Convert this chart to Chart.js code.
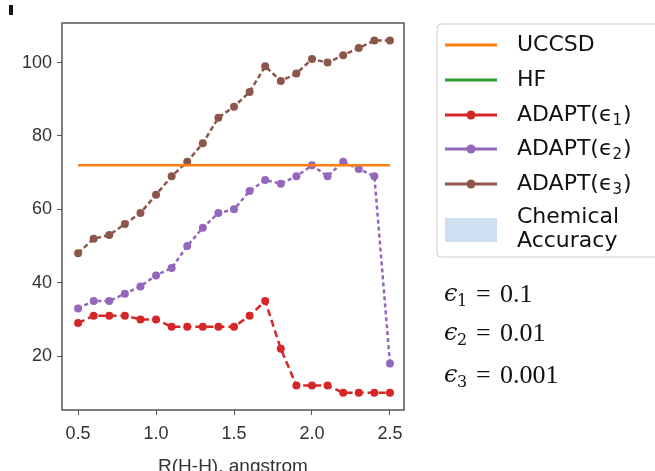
<!DOCTYPE html>
<html>
<head>
<meta charset="UTF-8" />
<script src="https://cdn.jsdelivr.net/npm/chart.js"></script>
<style>
  body { margin: 0; background: #fff; }
  #wrap { position: relative; width: 655px; height: 471px; }
</style>
</head>
<body>
<div id="wrap"><canvas id="c" width="655" height="471"></canvas></div>
<script>
// R(H-H) in angstrom
const rValues = [0.5, 0.6, 0.7, 0.8, 0.9, 1.0, 1.1, 1.2, 1.3, 1.4, 1.5, 1.6, 1.7, 1.8, 1.9, 2.0, 2.1, 2.2, 2.3, 2.4, 2.5];
const adapt1 = [29, 31, 31, 31, 30, 30, 28, 28, 28, 28, 28, 31, 35, 22, 12, 12, 12, 10, 10, 10, 10];
const adapt2 = [33, 35, 35, 37, 39, 42, 44, 50, 55, 59, 60, 65, 68, 67, 69, 72, 69, 73, 71, 69, 18];
const adapt3 = [48, 52, 53, 56, 59, 64, 69, 73, 78, 85, 88, 92, 99, 95, 97, 101, 100, 102, 104, 106, 106];
const uccsdValue = 72;
const xTicks = [0.5, 1.0, 1.5, 2.0, 2.5];
const yTicks = [20, 40, 60, 80, 100];

const legendItems = [
  { label: 'UCCSD', color: '#ff7f0e', marker: false },
  { label: 'HF', color: '#2ca02c', marker: false },
  { label: 'ADAPT(ϵ', sub: '1', color: '#d62728', marker: true },
  { label: 'ADAPT(ϵ', sub: '2', color: '#9467bd', marker: true },
  { label: 'ADAPT(ϵ', sub: '3', color: '#8c564b', marker: true },
  { label: 'Chemical', label2: 'Accuracy', color: '#cddff0', box: true }
];
const epsLines = [['1', '0.1'], ['2', '0.01'], ['3', '0.001']];

const pts = arr => arr.map((v, i) => ({ x: rValues[i], y: v }));

// frame + legend + notes
const extras = {
  id: 'extras',
  afterDraw(chart) {
    const ctx = chart.ctx;
    const a = chart.chartArea;
    ctx.save();
    ctx.strokeStyle = '#555';
    ctx.lineWidth = 1.5;
    ctx.strokeRect(a.left, a.top, a.right - a.left, a.bottom - a.top);

    // panel letter fragment
    ctx.fillStyle = '#111';
    ctx.fillRect(9, 5, 4, 10);

    // legend box
    ctx.strokeStyle = '#ccc';
    ctx.lineWidth = 1;
    ctx.beginPath();
    ctx.moveTo(700, 24);
    ctx.lineTo(441, 24);
    ctx.arcTo(437, 24, 437, 28, 4);
    ctx.lineTo(437, 253);
    ctx.arcTo(437, 257, 441, 257, 4);
    ctx.lineTo(700, 257);
    ctx.stroke();

    ctx.font = '22px "DejaVu Sans"';
    ctx.textBaseline = 'middle';
    const rowY = [45, 80, 115, 149, 184];
    legendItems.forEach((it, i) => {
      if (it.box) {
        ctx.fillStyle = it.color;
        ctx.fillRect(445, 218, 52, 24);
        ctx.fillStyle = '#111';
        ctx.fillText(it.label, 517, 217);
        ctx.fillText(it.label2, 517, 241);
        return;
      }
      const y = rowY[i];
      ctx.strokeStyle = it.color;
      ctx.lineWidth = 3;
      ctx.beginPath();
      ctx.moveTo(445, y);
      ctx.lineTo(497, y);
      ctx.stroke();
      if (it.marker) {
        ctx.fillStyle = it.color;
        ctx.beginPath();
        ctx.arc(471, y, 4.5, 0, Math.PI * 2);
        ctx.fill();
      }
      ctx.fillStyle = '#111';
      ctx.fillText(it.label, 517, y);
      if (it.sub) {
        let w = ctx.measureText(it.label).width;
        ctx.font = '15px "DejaVu Sans"';
        ctx.fillText(it.sub, 517 + w, y + 6);
        const sw = ctx.measureText(it.sub).width;
        ctx.font = '22px "DejaVu Sans"';
        ctx.fillText(')', 517 + w + sw + 1, y);
      }
    });

    // epsilon values
    const eY = [295, 334, 376];
    epsLines.forEach((e, i) => {
      const y = eY[i];
      ctx.fillStyle = '#111';
      ctx.font = 'italic 24px "DejaVu Serif"';
      ctx.fillText('ϵ', 444, y);
      ctx.font = '16px "DejaVu Serif"';
      ctx.fillText(e[0], 457, y + 7);
      ctx.font = '26px "Liberation Serif"';
      ctx.fillText('=', 476, y);
      ctx.fillText(e[1], 500, y);
    });
    ctx.restore();
  }
};

const lineDs = (label, data, color, dash) => ({
  label, data: pts(data),
  borderColor: color, backgroundColor: color,
  borderWidth: 2.5, borderDash: dash,
  pointRadius: 4, pointHoverRadius: 4, pointBorderWidth: 0,
  fill: false, tension: 0
});

new Chart(document.getElementById('c'), {
  type: 'line',
  data: {
    datasets: [
      {
        label: 'UCCSD',
        data: [{ x: rValues[0], y: uccsdValue }, { x: rValues[rValues.length - 1], y: uccsdValue }],
        borderColor: '#ff7f0e', borderWidth: 2.5, pointRadius: 0, fill: false
      },
      lineDs('ADAPT(ϵ1)', adapt1, '#d62728', [7, 4]),
      lineDs('ADAPT(ϵ2)', adapt2, '#9467bd', [4, 3]),
      lineDs('ADAPT(ϵ3)', adapt3, '#8c564b', [5, 3])
    ]
  },
  options: {
    responsive: false,
    animation: false,
    layout: { padding: { left: 0, top: 23, right: 251, bottom: 0 } },
    plugins: { legend: { display: false }, tooltip: { enabled: false } },
    scales: {
      x: {
        type: 'linear', min: 0.397, max: 2.59,
        afterBuildTicks: s => { s.ticks = xTicks.map(v => ({ value: v })); },
        afterFit: s => { s.height = 61; },
        grid: { drawOnChartArea: false, drawTicks: true, tickLength: 5, color: '#555' },
        border: { display: false },
        ticks: { color: '#333', font: { family: 'Liberation Sans', size: 18 }, padding: 8,
          callback: v => v.toFixed(1), maxRotation: 0 },
        title: { display: true, text: 'R(H-H), angstrom', color: '#333',
          font: { family: 'Liberation Sans', size: 19 }, padding: { top: 4, bottom: -7 } }
      },
      y: {
        min: 5.3, max: 110.8,
        afterBuildTicks: s => { s.ticks = yTicks.map(v => ({ value: v })); },
        afterFit: s => { s.width = 62; },
        grid: { drawOnChartArea: false, drawTicks: true, tickLength: 5, color: '#555' },
        border: { display: false },
        ticks: { color: '#333', font: { family: 'Liberation Sans', size: 18 }, padding: 5 }
      }
    }
  },
  plugins: [extras]
});
</script>
</body>
</html>
